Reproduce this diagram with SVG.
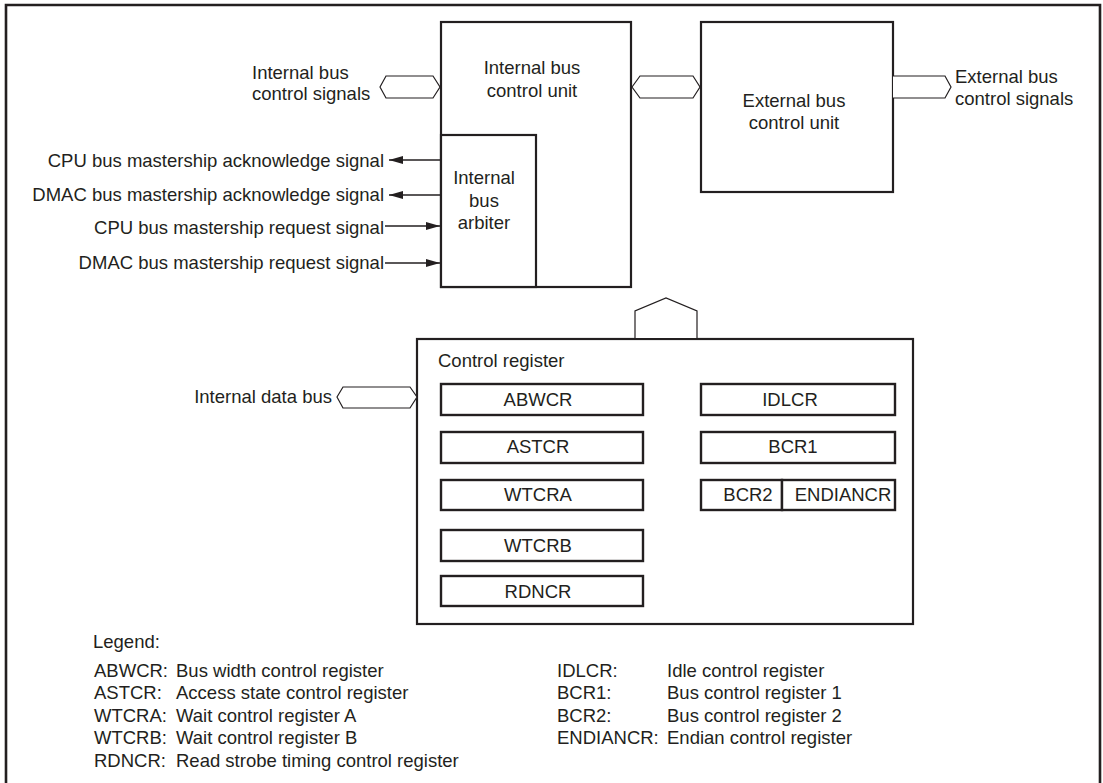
<svg xmlns="http://www.w3.org/2000/svg" width="1103" height="783" viewBox="0 0 1103 783">
<defs>
<style>
text{font-family:"Liberation Sans",Arial,Helvetica,sans-serif;font-size:18.5px;fill:#231f20}
.c{text-anchor:middle}
.e{text-anchor:end}
.box{fill:#fff;stroke:#231f20;stroke-width:2.2}
.reg{fill:#fff;stroke:#231f20;stroke-width:2.4}
.bus{fill:#fff;stroke:#231f20;stroke-width:1.2;stroke-linejoin:miter}
.arr{fill:none;stroke:#231f20;stroke-width:1.4}
.frame{fill:none;stroke:#231f20;stroke-width:2.6}
</style>
<marker id="ah" viewBox="0 0 14 8" refX="14" refY="4" markerWidth="14" markerHeight="8" markerUnits="userSpaceOnUse" orient="auto">
<path d="M0,0 L14,4 L0,8 Z" fill="#231f20"/>
</marker>
</defs>
<rect width="1103" height="783" fill="#fff"/>
<path class="frame" d="M6,790 L6,5 L1100,5 L1100,790"/>

<g id="internal-bus-control-unit">
<rect class="box" x="441" y="22" width="190" height="265"/>
<text class="c" x="532" y="74">Internal bus</text>
<text class="c" x="532" y="97">control unit</text>
</g>
<g id="internal-bus-arbiter">
<rect class="box" x="441" y="135" width="95" height="152"/>
<text class="c" x="484" y="184">Internal</text>
<text class="c" x="484" y="207">bus</text>
<text class="c" x="484" y="229">arbiter</text>
</g>
<g id="external-bus-control-unit">
<rect class="box" x="701" y="22" width="192" height="170"/>
<text class="c" x="794" y="107">External bus</text>
<text class="c" x="794" y="129">control unit</text>
</g>

<g id="control-register">
<rect class="box" x="417" y="339" width="496" height="285"/>
<text x="438" y="367">Control register</text>
</g>
<g id="reg-abwcr"><rect class="reg" x="441" y="384" width="202" height="31"/><text class="c" x="538" y="406">ABWCR</text></g>
<g id="reg-astcr"><rect class="reg" x="441" y="432" width="202" height="31"/><text class="c" x="538" y="453">ASTCR</text></g>
<g id="reg-wtcra"><rect class="reg" x="441" y="480" width="202" height="30"/><text class="c" x="538" y="501">WTCRA</text></g>
<g id="reg-wtcrb"><rect class="reg" x="441" y="530" width="202" height="31"/><text class="c" x="538" y="552">WTCRB</text></g>
<g id="reg-rdncr"><rect class="reg" x="441" y="576" width="202" height="30"/><text class="c" x="538" y="598">RDNCR</text></g>
<g id="reg-idlcr"><rect class="reg" x="701" y="384" width="194" height="31"/><text class="c" x="790" y="406">IDLCR</text></g>
<g id="reg-bcr1"><rect class="reg" x="701" y="432" width="194" height="31"/><text class="c" x="793" y="453">BCR1</text></g>
<g id="reg-bcr2"><rect class="reg" x="701" y="480" width="81" height="30"/><text class="c" x="748" y="501">BCR2</text></g>
<g id="reg-endiancr"><rect class="reg" x="782" y="480" width="113" height="30"/><text class="c" x="843" y="501">ENDIANCR</text></g>

<g id="connectors">
<polygon class="bus" points="380,87 386,76 433,76 440,87 433,98 386,98"/>
<polygon class="bus" points="632,87 640,76 693,76 700,87 693,98 640,98"/>
<path class="bus" d="M893,76 L945,76 L951,87 L945,98 L893,98"/>
<polygon class="bus" points="337,397 343,387 410,387 417,397 410,408 343,408"/>
<path class="bus" fill="none" d="M635,338 L635,311 L666,298 L697,311 L697,338"/>
<line class="arr" x1="441" y1="160" x2="389" y2="160" marker-end="url(#ah)"/>
<line class="arr" x1="441" y1="195" x2="389" y2="195" marker-end="url(#ah)"/>
<line class="arr" x1="385" y1="226" x2="440" y2="226" marker-end="url(#ah)"/>
<line class="arr" x1="385" y1="263" x2="440" y2="263" marker-end="url(#ah)"/>
</g>

<g id="labels">
<text x="252" y="79">Internal bus</text>
<text x="252" y="100">control signals</text>
<text x="955" y="83">External bus</text>
<text x="955" y="105">control signals</text>
<text class="e" x="384" y="167">CPU bus mastership acknowledge signal</text>
<text class="e" x="384" y="201">DMAC bus mastership acknowledge signal</text>
<text class="e" x="384" y="234">CPU bus mastership request signal</text>
<text class="e" x="384" y="269">DMAC bus mastership request signal</text>
<text class="e" x="332" y="403">Internal data bus</text>
</g>

<g id="legend">
<text x="93" y="648">Legend:</text>
<text x="94" y="677">ABWCR:</text><text x="176" y="677">Bus width control register</text>
<text x="94" y="699">ASTCR:</text><text x="176" y="699">Access state control register</text>
<text x="94" y="722">WTCRA:</text><text x="176" y="722">Wait control register A</text>
<text x="94" y="744">WTCRB:</text><text x="176" y="744">Wait control register B</text>
<text x="94" y="767">RDNCR:</text><text x="176" y="767">Read strobe timing control register</text>
<text x="557" y="677">IDLCR:</text><text x="667" y="677">Idle control register</text>
<text x="557" y="699">BCR1:</text><text x="667" y="699">Bus control register 1</text>
<text x="557" y="722">BCR2:</text><text x="667" y="722">Bus control register 2</text>
<text x="557" y="744">ENDIANCR:</text><text x="667" y="744">Endian control register</text>
</g>
</svg>
